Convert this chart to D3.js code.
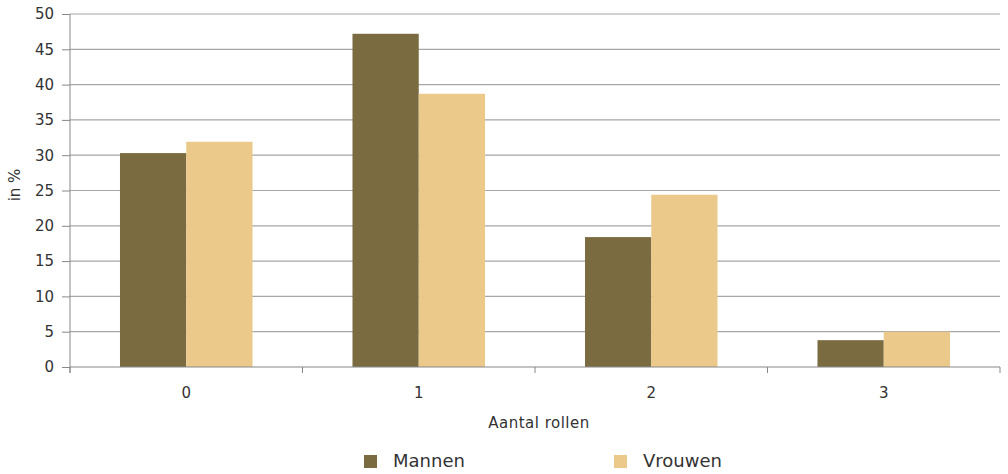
<!DOCTYPE html>
<html><head><meta charset="utf-8">
<script src="https://cdn.jsdelivr.net/npm/d3@7"></script>
<style>body{margin:0;background:#fff}text{font-family:"DejaVu Sans",Verdana,sans-serif;fill:#333}</style>
</head><body><svg id="c" width="1008" height="474"></svg>
<script>
const categories = ["0","1","2","3"];
const seriesNames = ["Mannen","Vrouwen"];
const mannen = [30.3, 47.2, 18.4, 3.8];
const vrouwen = [31.9, 38.7, 24.4, 5.0];
const yTicks = [0,5,10,15,20,25,30,35,40,45,50];
const colors = ["#7a6c40","#eac98a"];

const svg = d3.select("#c");
const L=70,R=1000,T=14,B=367;
const x = d3.scaleBand().domain(categories).range([L,R]).paddingInner(0.43).paddingOuter(0.215);
const x1 = d3.scaleBand().domain(seriesNames).range([0,x.bandwidth()]);
const y = d3.scaleLinear().domain([0,50]).range([B,T]);

// grid
svg.append("g").selectAll("line").data(yTicks.filter(d=>d>0)).join("line")
 .attr("x1",L).attr("x2",R).attr("y1",d=>y(d)).attr("y2",d=>y(d))
 .attr("stroke","#a6a6a6").attr("stroke-width",1.2);

// bars
const data = categories.map((c,i)=>({c, vals:[mannen[i],vrouwen[i]]}));
svg.append("g").selectAll("g").data(data).join("g")
 .attr("transform",d=>`translate(${x(d.c)},0)`)
 .selectAll("rect").data(d=>d.vals.map((v,j)=>({v,s:seriesNames[j],j}))).join("rect")
 .attr("x",d=>x1(d.s)).attr("width",x1.bandwidth())
 .attr("y",d=>y(d.v)).attr("height",d=>B-y(d.v)).attr("fill",d=>colors[d.j]);

// y axis
const ya = svg.append("g").attr("transform",`translate(${L},0)`)
 .call(d3.axisLeft(y).tickValues(yTicks).tickSize(8).tickPadding(8).tickSizeOuter(0));
ya.select(".domain").attr("stroke","#888").attr("d",`M0,${T}V${B+6}`);
ya.selectAll(".tick line").attr("stroke","#888");
ya.selectAll("text").style("font-size","15px").style("fill","#333").style("font-family","DejaVu Sans");

// x axis
const xa = svg.append("g").attr("transform",`translate(0,${B})`);
xa.append("line").attr("x1",L).attr("x2",R).attr("stroke","#888").attr("stroke-width",1.2);
const bounds = d3.range(categories.length+1).map(i=>L+i*(R-L)/categories.length);
xa.selectAll(".tk").data(bounds).join("line").attr("class","tk")
 .attr("x1",d=>d).attr("x2",d=>d).attr("y1",0).attr("y2",6).attr("stroke","#888");
xa.selectAll(".lb").data(categories).join("text").attr("class","lb")
 .attr("x",d=>x(d)+x.bandwidth()/2).attr("y",31).attr("text-anchor","middle")
 .style("font-size","15px").text(d=>d);

svg.append("text").attr("x",539).attr("y",428).attr("text-anchor","middle").style("font-size","15px").style("letter-spacing","0.5px").text("Aantal rollen");
svg.append("text").attr("transform","translate(20,185) rotate(-90)").attr("text-anchor","middle").style("font-size","15px").text("in %");

// legend
const lx=[364,614];
seriesNames.forEach((s,i)=>{
 svg.append("rect").attr("x",lx[i]).attr("y",455).attr("width",13).attr("height",13).attr("fill",colors[i]);
 svg.append("text").attr("x",lx[i]+29).attr("y",467).style("font-size","18px").text(s);
});
</script></body></html>
